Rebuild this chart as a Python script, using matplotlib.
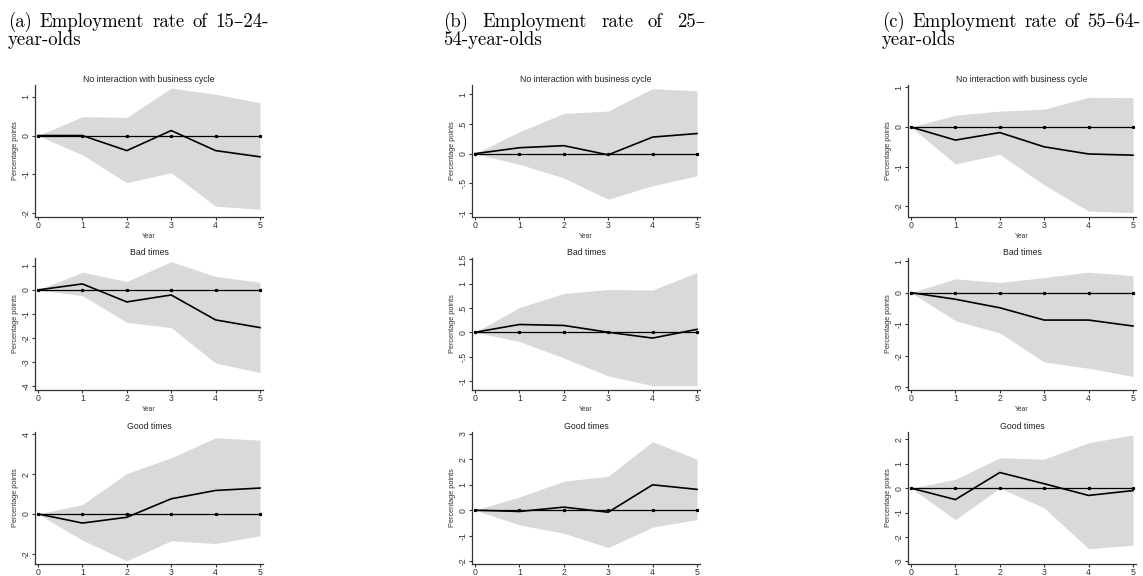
import matplotlib
matplotlib.use("Agg")
import matplotlib.pyplot as plt
from matplotlib.ticker import FuncFormatter

W, H = 1143, 576

years = [0, 1, 2, 3, 4, 5]

# (a) 15-24
est_a_none = [0, 0.0, -0.39, 0.13, -0.39, -0.55]
hi_a_none = [0, 0.49, 0.47, 1.23, 1.07, 0.85]
lo_a_none = [0, -0.50, -1.22, -0.96, -1.83, -1.91]
est_a_bad = [0, 0.25, -0.50, -0.21, -1.25, -1.57]
hi_a_bad = [0, 0.74, 0.35, 1.18, 0.56, 0.32]
lo_a_bad = [0, -0.24, -1.35, -1.57, -3.05, -3.44]
est_a_good = [0, -0.46, -0.17, 0.76, 1.18, 1.30]
hi_a_good = [0, 0.47, 2.03, 2.82, 3.83, 3.71]
lo_a_good = [0, -1.32, -2.36, -1.35, -1.49, -1.10]

# (b) 25-54
est_b_none = [0, 0.10, 0.135, -0.02, 0.28, 0.34]
hi_b_none = [0, 0.37, 0.68, 0.72, 1.10, 1.06]
lo_b_none = [0, -0.18, -0.41, -0.77, -0.54, -0.375]
est_b_bad = [0, 0.16, 0.14, 0.0, -0.12, 0.06]
hi_b_bad = [0, 0.51, 0.80, 0.88, 0.87, 1.23]
lo_b_bad = [0, -0.19, -0.53, -0.90, -1.10, -1.10]
est_b_good = [0, -0.05, 0.12, -0.08, 1.0, 0.82]
hi_b_good = [0, 0.52, 1.14, 1.34, 2.70, 2.01]
lo_b_good = [0, -0.58, -0.91, -1.47, -0.67, -0.37]

# (c) 55-64
est_c_none = [0, -0.33, -0.14, -0.50, -0.68, -0.71]
hi_c_none = [0, 0.30, 0.40, 0.45, 0.75, 0.74]
lo_c_none = [0, -0.93, -0.69, -1.46, -2.12, -2.16]
est_c_bad = [0, -0.21, -0.48, -0.87, -0.87, -1.06]
hi_c_bad = [0, 0.44, 0.32, 0.48, 0.65, 0.54]
lo_c_bad = [0, -0.89, -1.28, -2.20, -2.40, -2.66]
est_c_good = [0, -0.47, 0.64, 0.18, -0.30, -0.10]
hi_c_good = [0, 0.36, 1.24, 1.19, 1.86, 2.18]
lo_c_good = [0, -1.29, 0.0, -0.81, -2.48, -2.34]

row_titles = ["No interaction with business cycle", "Bad times", "Good times"]
head_line1 = ["(a) Employment rate of 15\u201324-",
              "(b) Employment rate of 25\u2013",
              "(c) Employment rate of 55\u201364-"]
head_line2 = ["year-olds", "54-year-olds", "year-olds"]

panels = [
    [(est_a_none, lo_a_none, hi_a_none, (-2.11, 1.31), [-2, -1, 0, 1]),
     (est_a_bad, lo_a_bad, hi_a_bad, (-4.17, 1.33), [-4, -3, -2, -1, 0, 1]),
     (est_a_good, lo_a_good, hi_a_good, (-2.52, 4.12), [-2, 0, 2, 4])],
    [(est_b_none, lo_b_none, hi_b_none, (-1.07, 1.16), [-1, -0.5, 0, 0.5, 1]),
     (est_b_bad, lo_b_bad, hi_b_bad, (-1.19, 1.53), [-1, -0.5, 0, 0.5, 1, 1.5]),
     (est_b_good, lo_b_good, hi_b_good, (-2.12, 3.08), [-2, -1, 0, 1, 2, 3])],
    [(est_c_none, lo_c_none, hi_c_none, (-2.27, 1.06), [-2, -1, 0, 1]),
     (est_c_bad, lo_c_bad, hi_c_bad, (-3.09, 1.10), [-3, -2, -1, 0, 1]),
     (est_c_good, lo_c_good, hi_c_good, (-3.11, 2.30), [-3, -2, -1, 0, 1, 2])],
]


def stata_fmt(v, pos):
    s = ("%g" % v)
    s = s.replace("0.", ".")
    return s


col_left = [35, 472, 908]
col_width = 228
row_top = [85, 258, 432]
row_height = 132
pad_x = 3 / 44.4

# heading text block: left and right edge of the justified first line
head_left = [8, 443, 882]
head_right = [269, 705, 1140]

fig = plt.figure(figsize=(W / 100, H / 100), dpi=100)
sans = ["Liberation Sans", "DejaVu Sans"]
serif = ["cmr10", "DejaVu Serif"]

for c in range(3):
    for r in range(3):
        est, lo, hi, ylim, yticks = panels[c][r]
        ax = fig.add_axes([col_left[c] / W, 1 - (row_top[r] + row_height) / H,
                           col_width / W, row_height / H])
        ax.fill_between(years, lo, hi, color="#d9d9d9", linewidth=0, zorder=1)
        ax.plot(years, [0] * len(years), color="black", lw=0.9, marker="s",
                markersize=1.3, zorder=2)
        ax.plot(years, est, color="black", lw=1.2, zorder=3)
        ax.set_xlim(-pad_x, 5 + pad_x)
        ax.set_ylim(*ylim)
        ax.set_xticks(years)
        ax.set_yticks(yticks)
        ax.yaxis.set_major_formatter(FuncFormatter(stata_fmt))
        for s in ["top", "right"]:
            ax.spines[s].set_visible(False)
        for s in ["left", "bottom"]:
            ax.spines[s].set_color("#333333")
            ax.spines[s].set_linewidth(0.9)
        ax.tick_params(axis="both", length=2.2, width=0.8, color="#333333",
                       labelsize=6.3, labelcolor="#333333", pad=1)
        for lab in ax.get_yticklabels():
            lab.set_rotation(90)
            lab.set_va("center")
            lab.set_family(sans)
        for lab in ax.get_xticklabels():
            lab.set_family(sans)
        ax.set_title(row_titles[r], fontsize=6.3, family=sans, color="#222222", pad=2.5)
        ax.set_ylabel("Percentage points", fontsize=5.3, family=sans,
                      color="#333333", labelpad=2)
        ax.set_xlabel("Year", fontsize=4.9, family=sans, color="#333333", labelpad=1.5)

# panel headings, first line justified like the LaTeX subcaption
fs = 13.5
renderer = fig.canvas.get_renderer()
for c in range(3):
    words = head_line1[c].split(" ")
    texts = [fig.text(0, 1 - 27 / H, wd, family=serif, fontsize=fs, va="baseline")
             for wd in words]
    widths = [t.get_window_extent(renderer).width for t in texts]
    gap = (head_right[c] - head_left[c] - sum(widths)) / (len(words) - 1)
    x = head_left[c]
    for t, wdt in zip(texts, widths):
        t.set_x(x / W)
        x += wdt + gap
    fig.text(head_left[c] / W, 1 - 45 / H, head_line2[c], family=serif,
             fontsize=fs, va="baseline")

fig.savefig("out.png", dpi=100)
